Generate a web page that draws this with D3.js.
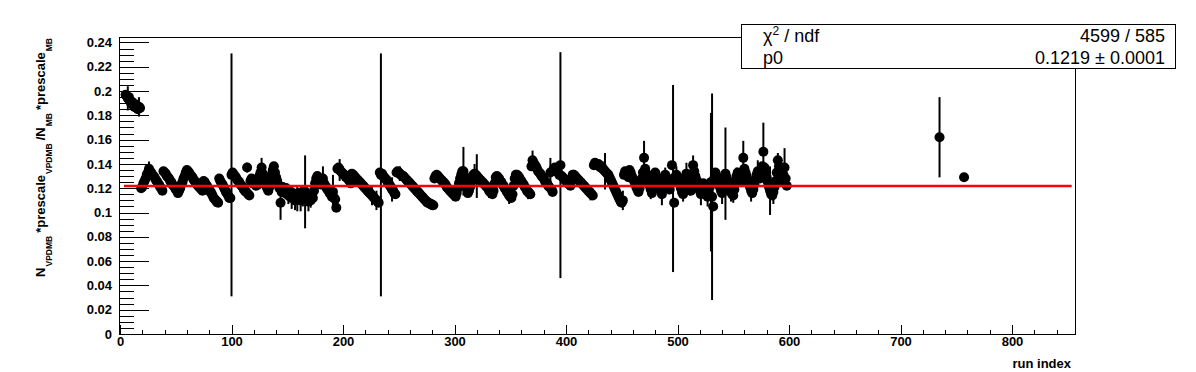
<!DOCTYPE html>
<html>
<head>
<meta charset="utf-8">
<title>VPDMB / MB ratio vs run index</title>
<script src="https://d3js.org/d3.v7.min.js"></script>
<style>
  body { margin: 0; background: #fff; }
  svg { display: block; font-family: "Liberation Sans", Arial, Helvetica, sans-serif; }
  .axis text { font-size: 13px; font-weight: bold; fill: #000; }
  .axis line { stroke: #000; shape-rendering: crispEdges; }
  .axis .domain { display: none; }
</style>
</head>
<body>
<svg id="chart"></svg>
<script>
// ratio per run, consecutive run indices starting at firstRun
const firstRun = 5;
const ratio = [
  .197,.196,.194,.195,.192,.190,.191,.188,.187,.189, // 5-14
  .186,.185,.187,.186,.120,.121,.124,.126,.128,.131, // 15-24
  .133,.136,.134,.133,.131,.130,.129,.127,.126,.124, // 25-34
  .123,.121,.120,.118,.134,.133,.132,.130,.129,.128, // 35-44
  .126,.125,.123,.122,.121,.119,.118,.116,.118,.120, // 45-54
  .123,.125,.128,.130,.133,.135,.134,.133,.131,.130, // 55-64
  .129,.127,.126,.125,.123,.122,.121,.120,.119,.118, // 65-74
  .126,.125,.123,.122,.120,.119,.117,.116,.114,.112, // 75-84
  .111,.110,.109,.108,.128,.126,.124,.123,.121,.119, // 85-94
  .117,.116,.114,.112,.112,.131,.133,.131,.130,.129, // 95-104
  .127,.126,.125,.123,.122,.121,.119,.118,.117,.137, // 105-114
  .115,.114,.126,.128,.124,.127,.125,.122,.126,.123, // 115-124
  .130,.133,.137,.132,.128,.125,.122,.120,.118,.121, // 125-134
  .127,.131,.135,.138,.133,.129,.126,.123,.120,.108, // 135-144
  .117,.121,.119,.116,.120,.117,.114,.118,.115,.112, // 145-154
  .116,.113,.110,.114,.111,.116,.113,.110,.115,.112, // 155-164
  .118,.117,.114,.111,.109,.113,.110,.115,.112,.118, // 165-174
  .124,.128,.130,.127,.125,.123,.126,.128,.124,.122, // 175-184
  .121,.119,.118,.116,.115,.113,.117,.112,.111,.104, // 185-194
  .136,.137,.135,.134,.133,.132,.131,.130,.129,.128, // 195-204
  .127,.126,.124,.132,.131,.130,.129,.128,.127,.126, // 205-214
  .125,.124,.123,.122,.121,.120,.119,.118,.117,.116, // 215-224
  .115,.114,.113,.112,.111,.110,.109,.108,.133,.131, // 225-234
  .132,.130,.129,.128,.127,.125,.124,.122,.121,.119, // 235-244
  .118,.116,.115,.133,.134,.133,.132,.131,.130,.130, // 245-254
  .129,.128,.127,.126,.125,.124,.123,.122,.121,.120, // 255-264
  .119,.118,.117,.116,.115,.114,.113,.112,.111,.110, // 265-274
  .109,.108,.108,.107,.107,.106,.106,.128,.130,.131, // 275-284
  .130,.129,.128,.127,.126,.125,.124,.123,.121,.120, // 285-294
  .119,.118,.117,.116,.115,.114,.113,.116,.120,.124, // 295-304
  .128,.131,.134,.134,.130,.125,.120,.116,.118,.121, // 305-314
  .125,.129,.131,.132,.131,.130,.129,.128,.127,.126, // 315-324
  .125,.124,.123,.122,.121,.120,.118,.117,.116,.115, // 325-334
  .118,.124,.129,.130,.129,.128,.126,.125,.123,.122, // 335-344
  .120,.119,.117,.116,.114,.113,.112,.115,.122,.128, // 345-354
  .131,.131,.130,.129,.127,.126,.124,.123,.121,.120, // 355-364
  .118,.117,.116,.115,.138,.143,.141,.139,.138,.136, // 365-374
  .134,.133,.132,.130,.129,.128,.126,.125,.124,.122, // 375-384
  .121,.133,.119,.117,.136,.137,.135,.134,.133,.131, // 385-394
  .139,.130,.129,.128,.127,.126,.125,.124,.123,.122, // 395-404
  .128,.131,.131,.130,.129,.128,.127,.126,.125,.124, // 405-414
  .123,.122,.121,.120,.119,.118,.117,.116,.115,.114, // 415-424
  .139,.141,.140,.139,.140,.138,.137,.138,.136,.135, // 425-434
  .134,.133,.132,.131,.129,.127,.125,.123,.121,.119, // 435-444
  .117,.115,.113,.111,.109,.108,.110,.131,.134,.133, // 445-454
  .131,.129,.135,.133,.130,.128,.126,.124,.121,.119, // 455-464
  .117,.120,.124,.128,.133,.145,.136,.132,.128,.125, // 465-474
  .122,.119,.116,.121,.131,.133,.130,.127,.124,.121, // 475-484
  .118,.115,.119,.126,.131,.128,.125,.122,.119,.124, // 485-494
  .139,.128,.108,.126,.131,.129,.126,.123,.120,.117, // 495-504
  .115,.121,.129,.132,.128,.124,.121,.118,.125,.139, // 505-514
  .134,.130,.127,.124,.121,.118,.115,.119,.124,.121, // 515-524
  .118,.115,.113,.117,.121,.125,.113,.105,.128,.133, // 525-534
  .130,.127,.124,.121,.118,.116,.120,.127,.132,.129, // 535-544
  .126,.123,.120,.117,.115,.114,.119,.126,.130,.133, // 545-554
  .131,.128,.125,.131,.145,.136,.133,.130,.127,.124, // 555-564
  .121,.118,.116,.119,.123,.127,.131,.134,.131,.128, // 565-574
  .132,.138,.150,.137,.133,.129,.125,.121,.118,.115, // 575-584
  .114,.117,.121,.126,.133,.143,.138,.134,.130,.126, // 585-594
  .131,.137,.128,.122                                 // 595-598
];

// most error bars are hidden under the markers; the visible ones
const errDefault = 0.003;
const errBars = [
  [7,.010],[17,.008],[26,.006],[84,.006],[85,.006],[100,.100],[114,.004],[125,.006],
  [127,.008],[131,.005],[137,.005],[144,.014],[150,.007],[151,.007],[154,.009],[157,.008],
  [159,.010],[162,.009],[164,.007],[166,.030],[169,.008],[171,.006],[182,.010],[191,.014],
  [197,.009],[200,.006],[220,.005],[226,.008],[230,.008],[234,.100],[244,.010],[251,.006],
  [308,.020],[318,.008],[320,.018],[331,.006],[349,.007],[366,.006],[370,.008],[386,.012],
  [395,.093],[422,.006],[435,.015],[441,.007],[451,.008],[470,.014],[476,.008],[481,.006],
  [486,.009],[489,.006],[492,.007],[496,.077],[499,.007],[503,.008],[505,.006],[508,.009],
  [511,.007],[514,.008],[517,.006],[521,.009],[524,.006],[527,.008],[530,.057],[531,.085],
  [536,.007],[540,.009],[543,.038],[548,.008],[550,.006],[553,.007],[559,.014],[562,.008],
  [566,.009],[569,.006],[572,.009],[577,.024],[580,.007],[583,.020],[586,.010],[590,.006],
  [593,.008],[596,.016]
];

// two isolated runs far to the right
const extraRuns = [735, 757];
const extraRatio = [.162, .129];
const extraErr = [.033, .003];

// pol0 fit
const fitP0 = 0.1219;
const fitRange = [3.6, 853.5];
const statsLeft = ["ndf", "p0"];
const statsRight = ["4599 / 585", "0.1219 \u00b1 0.0001"];

const xTickValues = [0, 100, 200, 300, 400, 500, 600, 700, 800];
const yTickValues = [0, 0.02, 0.04, 0.06, 0.08, 0.1, 0.12, 0.14, 0.16, 0.18, 0.2, 0.22, 0.24];
const yTickLabels = ["0", "0.02", "0.04", "0.06", "0.08", "0.1", "0.12", "0.14", "0.16", "0.18", "0.2", "0.22", "0.24"];

const W = 1196, H = 372;
const svg = d3.select("#chart").attr("width", W).attr("height", H);
svg.append("rect").attr("width", W).attr("height", H).attr("fill", "#fff");

const x = d3.scaleLinear().domain([0, 856.5]).range([120, 1075]);
const y = d3.scaleLinear().domain([0, 0.2445]).range([334, 37]);

const errMap = new Map(errBars);
const points = ratio.map((v, i) => ({ run: firstRun + i, v: v, e: errMap.has(firstRun + i) ? errMap.get(firstRun + i) : errDefault }))
  .concat(extraRuns.map((r, i) => ({ run: r, v: extraRatio[i], e: extraErr[i] })));

// frame
svg.append("rect")
  .attr("x", 119.5).attr("y", 37.5)
  .attr("width", 955.5).attr("height", 296.5)
  .attr("fill", "none").attr("stroke", "#000").attr("stroke-width", 1)
  .style("shape-rendering", "crispEdges");

// x axis, ticks pointing inside
svg.append("g").attr("class", "axis")
  .attr("transform", "translate(0,334)")
  .call(d3.axisBottom(x).tickValues(d3.range(0, 857, 20)).tickSize(-4.5).tickFormat(""));
svg.append("g").attr("class", "axis")
  .attr("transform", "translate(0,334)")
  .call(d3.axisBottom(x).tickValues(xTickValues).tickSize(-9).tickPadding(3).tickFormat(d => d));

// y axis
svg.append("g").attr("class", "axis")
  .attr("transform", "translate(120,0)")
  .call(d3.axisLeft(y).tickValues(d3.range(0, 0.2446, 0.005)).tickSize(-14).tickFormat(""));
svg.append("g").attr("class", "axis")
  .attr("transform", "translate(120,0)")
  .call(d3.axisLeft(y).tickValues(yTickValues).tickSize(-29).tickPadding(8).tickFormat((d, i) => yTickLabels[i]));

// axis titles
svg.append("text")
  .attr("x", 1071).attr("y", 368)
  .attr("text-anchor", "end")
  .style("font-weight", "bold").style("font-size", "13px")
  .text("run index");

const titleParts = [
  { t: "N" }, { t: "VPDMB", sub: true }, { t: "*prescale" }, { t: "VPDMB", sub: true },
  { t: "/N" }, { t: "MB", sub: true }, { t: "*prescale" }, { t: "MB", sub: true }
];
const yTitle = svg.append("text")
  .attr("transform", "translate(45,38) rotate(-90)")
  .attr("text-anchor", "end")
  .style("font-weight", "bold").style("font-size", "13px");
titleParts.forEach((p, i) => {
  const ts = yTitle.append("tspan").text(p.t);
  if (p.sub) ts.attr("dy", 6.5).attr("dx", 1).style("font-size", "8.5px");
  else if (i > 0) ts.attr("dy", -6.5).attr("dx", 3);
});

// error bars
svg.append("g").selectAll("line")
  .data(points)
  .join("line")
  .attr("x1", d => x(d.run)).attr("x2", d => x(d.run))
  .attr("y1", d => y(d.v - d.e)).attr("y2", d => y(d.v + d.e))
  .attr("stroke", "#000").attr("stroke-width", 2);

// markers
svg.append("g").selectAll("circle")
  .data(points)
  .join("circle")
  .attr("cx", d => x(d.run)).attr("cy", d => y(d.v))
  .attr("r", 5).attr("fill", "#000");

// fit
svg.append("line")
  .attr("x1", x(fitRange[0])).attr("x2", x(fitRange[1]))
  .attr("y1", y(fitP0)).attr("y2", y(fitP0))
  .attr("stroke", "#f00").attr("stroke-width", 2.5);

// stats box
svg.append("rect")
  .attr("x", 741.5).attr("y", 24.5).attr("width", 434).attr("height", 43.5)
  .attr("fill", "#fff").attr("stroke", "#000").attr("stroke-width", 1)
  .style("shape-rendering", "crispEdges");

const statsY = [42, 64];
const chiText = svg.append("text").attr("x", 763).attr("y", statsY[0]).style("font-size", "18px");
chiText.append("tspan").text("\u03c7");
chiText.append("tspan").text("2").attr("dy", -7).style("font-size", "12px");
chiText.append("tspan").text(" / " + statsLeft[0]).attr("dy", 7);
svg.append("text").attr("x", 763).attr("y", statsY[1]).style("font-size", "18px").text(statsLeft[1]);
statsRight.forEach((t, i) => {
  svg.append("text").attr("x", 1165).attr("y", statsY[i])
    .attr("text-anchor", "end").style("font-size", "18px").text(t);
});
</script>
</body>
</html>
